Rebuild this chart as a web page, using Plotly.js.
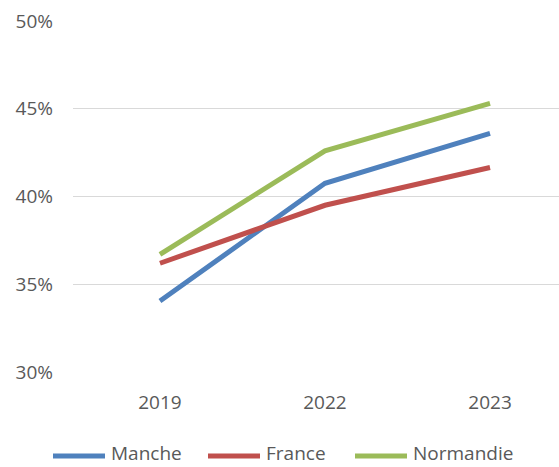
<!DOCTYPE html>
<html>
<head>
<meta charset="utf-8">
<script src="https://cdn.plot.ly/plotly-3.0.1.min.js"></script>
<style>html,body{margin:0;padding:0;background:#fff;}#chart{width:559px;height:467px;}</style>
</head>
<body>
<div id="chart"></div>
<script>
const years = ['2019', '2022', '2023'];
const seriesNames = ['Manche', 'France', 'Normandie'];
const manche = [0.3405, 0.4075, 0.436];
const france = [0.362, 0.395, 0.4165];
const normandie = [0.367, 0.426, 0.453];
const colors = ['#4F81BD', '#C0504D', '#9BBB59'];
const yTicks = [0.30, 0.35, 0.40, 0.45, 0.50];

const W = 559, H = 467;
const mL = 73, mR = 0, mT = 20, mB = 94;
const pw = W - mL - mR, ph = H - mT - mB;
const px = x => (x - mL) / pw;
const py = y => (H - mB - y) / ph;

const allSeries = [manche, france, normandie];
const traces = allSeries.map((vals, i) => ({
  x: years, y: vals, type: 'scatter', mode: 'lines', name: seriesNames[i],
  line: {color: colors[i], width: 5}, showlegend: false, hoverinfo: 'skip'
}));

// manual legend
const legendLineX = [[53, 105], [208, 260], [355, 407]];
const legendY = 456;
const shapes = legendLineX.map((lx, i) => ({
  type: 'line', xref: 'paper', yref: 'paper',
  x0: px(lx[0]), x1: px(lx[1]), y0: py(legendY), y1: py(legendY),
  line: {color: colors[i], width: 5}
}));
const annotations = legendLineX.map((lx, i) => ({
  xref: 'paper', yref: 'paper', x: px(lx[1] + 4), y: py(453),
  xanchor: 'left', yanchor: 'middle', showarrow: false, text: seriesNames[i],
  font: {family: 'Open Sans, Liberation Sans, sans-serif', size: 19, color: '#595959'}
}));

const layout = {
  width: W, height: H,
  margin: {l: mL, r: mR, t: mT, b: mB},
  paper_bgcolor: '#fff', plot_bgcolor: '#fff',
  showlegend: false,
  font: {family: 'Open Sans, Liberation Sans, sans-serif', size: 19, color: '#595959'},
  xaxis: {
    type: 'category', range: [-0.527, 2.418], showgrid: false, zeroline: false,
    showline: false, ticks: '', ticklabelstandoff: 16, fixedrange: true
  },
  yaxis: {
    range: [0.2995, 0.5005], tickvals: yTicks, tickformat: '.0%',
    showgrid: true, gridcolor: '#D9D9D9', gridwidth: 1.3, zeroline: false,
    showline: false, ticks: '', ticklabelstandoff: 19, fixedrange: true
  },
  shapes: shapes,
  annotations: annotations
};

Plotly.newPlot('chart', traces, layout, {displayModeBar: false, staticPlot: true});
</script>
</body>
</html>
